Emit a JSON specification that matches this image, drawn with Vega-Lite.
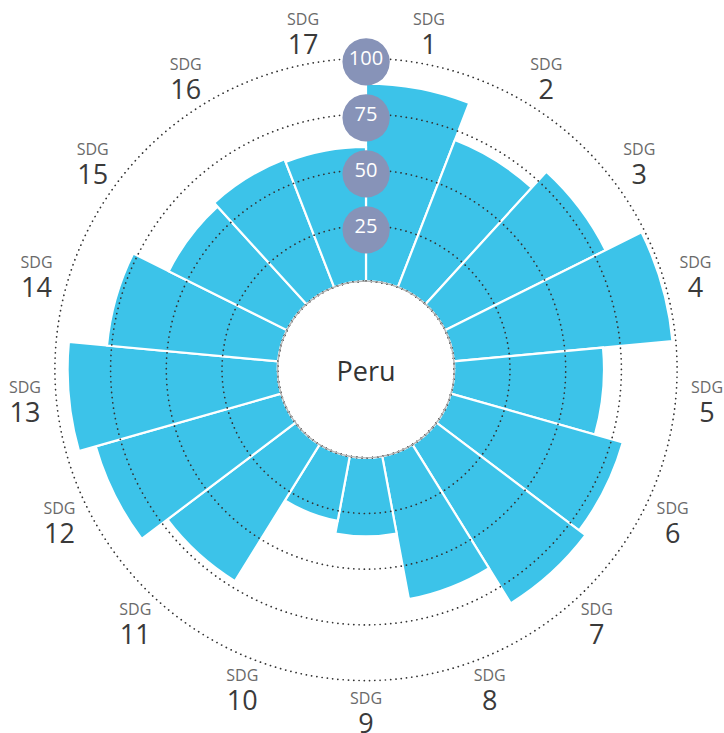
{
  "$schema": "https://vega.github.io/schema/vega-lite/v6.json",
  "width": 716,
  "height": 727,
  "autosize": "none",
  "padding": {"left": 8, "top": 6, "right": 0, "bottom": 0},
  "background": "white",
  "config": {"view": {"stroke": null}},
  "data": {
    "values": [
      {"sdg": 1, "value": 88.7, "share": 1},
      {"sdg": 2, "value": 70.8, "share": 1},
      {"sdg": 3, "value": 80.5, "share": 1},
      {"sdg": 4, "value": 98.5, "share": 1},
      {"sdg": 5, "value": 67.2, "share": 1},
      {"sdg": 6, "value": 80.2, "share": 1},
      {"sdg": 7, "value": 83.8, "share": 1},
      {"sdg": 8, "value": 65.2, "share": 1},
      {"sdg": 9, "value": 35.3, "share": 1},
      {"sdg": 10, "value": 29.5, "share": 1},
      {"sdg": 11, "value": 72.1, "share": 1},
      {"sdg": 12, "value": 86.5, "share": 1},
      {"sdg": 13, "value": 94.3, "share": 1},
      {"sdg": 14, "value": 77.1, "share": 1},
      {"sdg": 15, "value": 59.3, "share": 1},
      {"sdg": 16, "value": 61.6, "share": 1},
      {"sdg": 17, "value": 60.3, "share": 1}
    ]
  },
  "layer": [
    {
      "transform": [{"stack": "share", "groupby": [], "sort": [{"field": "sdg", "order": "ascending"}], "as": ["t0", "t1"]}],
      "mark": {"type": "arc", "color": "#3cc3e9", "stroke": "white", "strokeWidth": 2.2},
      "encoding": {
        "theta": {"field": "t0", "type": "quantitative", "stack": null},
        "theta2": {"field": "t1"},
        "radius": {"field": "value", "type": "quantitative", "stack": null, "scale": {"type": "linear", "domain": [0, 100], "range": [88.3, 311.1]}}
      }
    },
    {
      "data": {"values": [{"ring": 25}, {"ring": 50}, {"ring": 75}, {"ring": 100}]},
      "mark": {"type": "arc", "theta": 6.2832, "fillOpacity": 0, "stroke": "#333333", "strokeWidth": 1.7, "strokeDash": [0.1, 5.2], "strokeCap": "round"},
      "encoding": {"radius": {"field": "ring", "type": "quantitative", "stack": null}}
    },
    {
      "data": {"values": [{"country": "Peru"}]},
      "mark": {"type": "arc", "theta": 6.2832, "fill": "white", "stroke": "#b4b4b4", "strokeWidth": 1.3},
      "encoding": {"radius": {"datum": 0, "type": "quantitative"}}
    },
    {
      "data": {"values": [{"country": "Peru"}]},
      "mark": {"type": "text", "font": "Open Sans", "fontSize": 27, "color": "#333333", "baseline": "middle", "align": "center", "dy": 3},
      "encoding": {"text": {"field": "country", "type": "nominal"}}
    },
    {
      "data": {"values": [{"ring": 25, "label": "25"}, {"ring": 50, "label": "50"}, {"ring": 75, "label": "75"}, {"ring": 100, "label": "100"}]},
      "mark": {"type": "text", "font": "DejaVu Sans", "fontSize": 62, "color": "#8793b8", "baseline": "middle", "align": "center", "dy": 1},
      "encoding": {
        "theta": {"datum": 0, "type": "quantitative"},
        "radius": {"field": "ring", "type": "quantitative", "stack": null},
        "text": {"value": "●"}
      }
    },
    {
      "data": {"values": [{"ring": 25, "label": "25"}, {"ring": 50, "label": "50"}, {"ring": 75, "label": "75"}, {"ring": 100, "label": "100"}]},
      "mark": {"type": "text", "font": "Open Sans", "fontSize": 20, "color": "white", "baseline": "middle", "align": "center", "dy": 1},
      "encoding": {
        "theta": {"datum": 0, "type": "quantitative"},
        "radius": {"field": "ring", "type": "quantitative", "stack": null},
        "text": {"field": "label", "type": "nominal"}
      }
    },
    {
      "mark": {"type": "text", "font": "Open Sans", "fontSize": 16, "color": "#6a6a6a", "baseline": "middle", "align": "center", "dy": -13},
      "encoding": {
        "theta": {"field": "share", "type": "quantitative", "stack": true},
        "order": {"field": "sdg", "type": "quantitative"},
        "radius": {"datum": 114.1, "type": "quantitative"},
        "text": {"value": "SDG"}
      }
    },
    {
      "mark": {"type": "text", "font": "Open Sans", "fontSize": 27, "color": "#3a3a3a", "baseline": "middle", "align": "center", "dy": 13},
      "encoding": {
        "theta": {"field": "share", "type": "quantitative", "stack": true},
        "order": {"field": "sdg", "type": "quantitative"},
        "radius": {"datum": 114.1, "type": "quantitative"},
        "text": {"field": "sdg", "type": "nominal"}
      }
    }
  ]
}
